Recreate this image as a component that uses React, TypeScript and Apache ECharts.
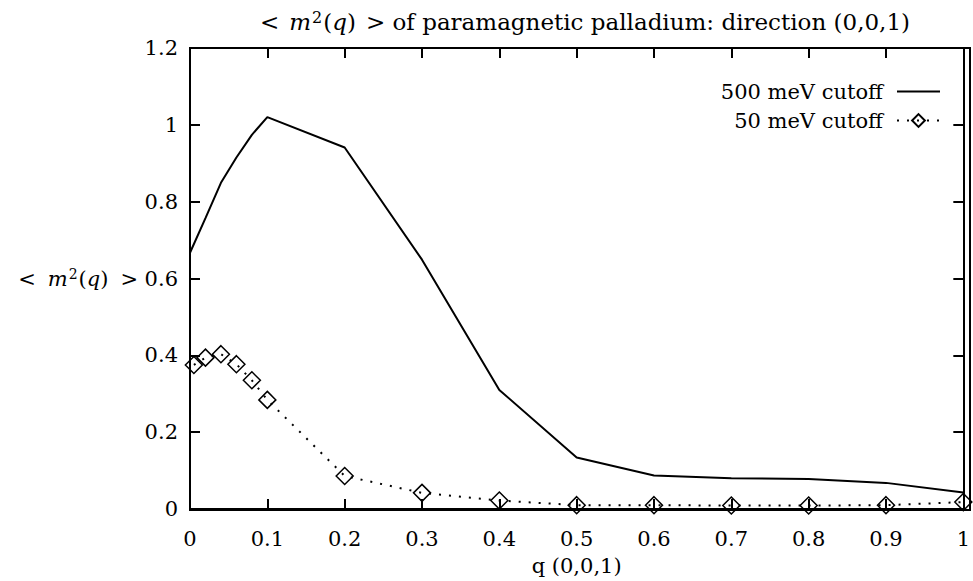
import React, { useEffect, useRef } from "react";
import * as echarts from "echarts";

const qValues500 = [0, 0.02, 0.04, 0.06, 0.08, 0.1, 0.2, 0.3, 0.4, 0.5, 0.6, 0.7, 0.8, 0.9, 1.0];
const cutoff500 = [0.667, 0.757, 0.849, 0.915, 0.974, 1.02, 0.941, 0.649, 0.31, 0.134, 0.087, 0.08, 0.078, 0.068, 0.043];

const qValues50 = [0.005, 0.02, 0.04, 0.06, 0.08, 0.1, 0.2, 0.3, 0.4, 0.5, 0.6, 0.7, 0.8, 0.9, 1.0];
const cutoff50 = [0.375, 0.394, 0.403, 0.377, 0.335, 0.284, 0.086, 0.042, 0.022, 0.01, 0.01, 0.009, 0.009, 0.01, 0.018];

const seriesNames = ["500 meV cutoff", "50 meV cutoff"];
const titleTail = " of paramagnetic palladium: direction (0,0,1)";
const xAxisName = "q (0,0,1)";

const FONT = "'DejaVu Serif', serif";
const FS = 21;

const GRID = { left: 190, right: 3, top: 48, bottom: 71 };
const W = 973;
const H = 581;

function makeRich(fs: number, sp: number) {
  return {
    n: { fontFamily: FONT, fontSize: fs, color: "#000" },
    i: { fontFamily: FONT, fontSize: fs, fontStyle: "italic", color: "#000" },
    sp: { fontFamily: FONT, fontSize: fs, color: "#000", width: sp },
    sup: { fontFamily: FONT, fontSize: Math.round(fs * 0.68), color: "#000", verticalAlign: "top", padding: [0, 1, 10, 1] },
  };
}

const mathExpr = "{n|<}{sp|}{i|m}{sup|2}{n|(}{i|q}{n|)}{sp|}{n|>}";

export default function App() {
  const ref = useRef<HTMLDivElement>(null);
  useEffect(() => {
    if (!ref.current) return;
    const chart = echarts.init(ref.current, null, { renderer: "svg" });
    const axisCommon = {
      type: "value",
      min: 0,
      axisLine: { show: true, onZero: false, lineStyle: { color: "#000", width: 2 } },
      axisTick: { show: true, inside: true, length: 10, lineStyle: { color: "#000", width: 2 } },
      splitLine: { show: false },
    };
    chart.setOption({
      animation: false,
      backgroundColor: "#fff",
      textStyle: { fontFamily: FONT },
      title: {
        text: mathExpr + "{n|" + titleTail + "}",
        left: 580,
        top: 4,
        textAlign: "center",
        textStyle: { rich: makeRich(23, 10), fontFamily: FONT, fontSize: 23, fontWeight: "normal", color: "#000" },
      },
      legend: {
        orient: "vertical",
        align: "right",
        right: 27,
        top: 76,
        itemWidth: 43,
        itemHeight: 16,
        itemGap: 8,
        data: [
          { name: seriesNames[0], itemStyle: { color: "rgba(0,0,0,0)", borderWidth: 0, opacity: 0 } },
          { name: seriesNames[1] },
        ],
        textStyle: { fontFamily: FONT, fontSize: FS, color: "#000", padding: [0, 9, 0, 0] },
      },
      graphic: [
        {
          type: "rect",
          silent: true,
          z: 100,
          shape: {
            x: GRID.left,
            y: GRID.top,
            width: W - GRID.left - GRID.right,
            height: H - GRID.top - GRID.bottom,
          },
          style: { fill: "none", stroke: "#000", lineWidth: 2 },
        },
      ],
      grid: {
        ...GRID,
        containLabel: false,
        show: false,
      },
      xAxis: [
        {
          ...axisCommon,
          max: 1,
          interval: 0.1,
          position: "bottom",
          name: xAxisName,
          nameLocation: "middle",
          nameGap: 46,
          nameMoveOverlap: false,
          nameTextStyle: { fontFamily: FONT, fontSize: FS, color: "#000" },
          axisLabel: { show: true, margin: 19, fontFamily: FONT, fontSize: FS, color: "#000" },
        },
        {
          ...axisCommon,
          max: 1,
          interval: 0.1,
          position: "top",
          axisLabel: { show: false },
        },
      ],
      yAxis: [
        {
          ...axisCommon,
          max: 1.2,
          interval: 0.2,
          position: "left",
          name: mathExpr,
          nameLocation: "middle",
          nameRotate: 0,
          nameGap: 52,
          nameMoveOverlap: false,
          nameTextStyle: { rich: makeRich(FS, 12), fontFamily: FONT, fontSize: FS, color: "#000", align: "right" },
          axisLabel: { show: true, margin: 12, fontFamily: FONT, fontSize: FS, color: "#000" },
        },
        {
          ...axisCommon,
          max: 1.2,
          interval: 0.2,
          position: "right",
          axisLabel: { show: false },
        },
      ],
      series: [
        {
          name: seriesNames[0],
          type: "line",
          data: qValues500.map((q, k) => [q, cutoff500[k]]),
          showSymbol: false,
          symbol: "none",
          lineStyle: { color: "#000", width: 2 },
          itemStyle: { color: "#000" },
          clip: false,
        },
        {
          name: seriesNames[1],
          type: "line",
          data: qValues50.map((q, k) => [q, cutoff50[k]]),
          symbol: "diamond",
          symbolSize: 17,
          lineStyle: { color: "#000", width: 2, type: [2, 8] },
          itemStyle: { color: "rgba(0,0,0,0)", borderColor: "#000", borderWidth: 1.5 },
          clip: false,
          z: 3,
        },
      ],
    });
    return () => chart.dispose();
  }, []);
  return (
    <div
      ref={ref}
      style={{ position: "fixed", left: 0, top: 0, width: W, height: H, background: "#fff" }}
    />
  );
}
